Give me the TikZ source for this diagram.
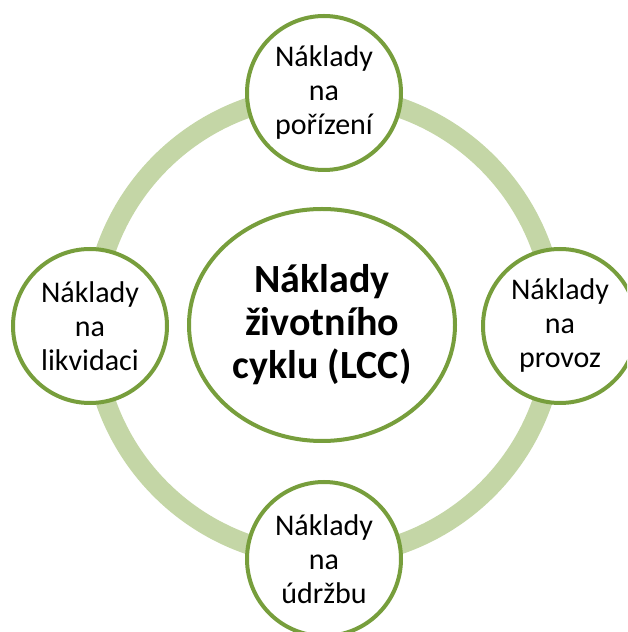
\documentclass[tikz,border=0pt]{standalone}
\usepackage{fontspec}
\setmainfont{Carlito}
\usetikzlibrary{shapes.geometric}
\definecolor{ringgreen}{RGB}{196,214,166}
\definecolor{edgegreen}{RGB}{119,158,60}
\tikzset{
  sat/.style={circle, draw=edgegreen, line width=4pt, fill=white, minimum size=154pt, inner sep=0pt, align=center, text=black, font=\fontsize{30}{34}\selectfont},
  hub/.style={ellipse, draw=edgegreen, line width=4pt, fill=white, minimum width=266pt, minimum height=232pt, inner sep=0pt, align=center, text=black, font=\fontsize{40}{43}\selectfont\bfseries}
}
\begin{document}
\begin{tikzpicture}[x=1pt,y=1pt]
\useasboundingbox (0,0) rectangle (627,632);
\clip (0,0) rectangle (627,632);
\coordinate (o) at (324,306);
\draw[ringgreen, line width=20pt] (o) circle[radius=231];
\node[hub] (c) at (322,307) {Náklady\\životního\\cyklu (LCC)};
\node[sat] (t) at (324,539) {Náklady\\na\\pořízení};
\node[sat] (b) at (324,73) {Náklady\\na\\údržbu};
\node[sat] (l) at (90,306) {Náklady\\na\\likvidaci};
\node[sat] (r) at (560,306) {Náklady\\na\\provoz};
\end{tikzpicture}
\end{document}
